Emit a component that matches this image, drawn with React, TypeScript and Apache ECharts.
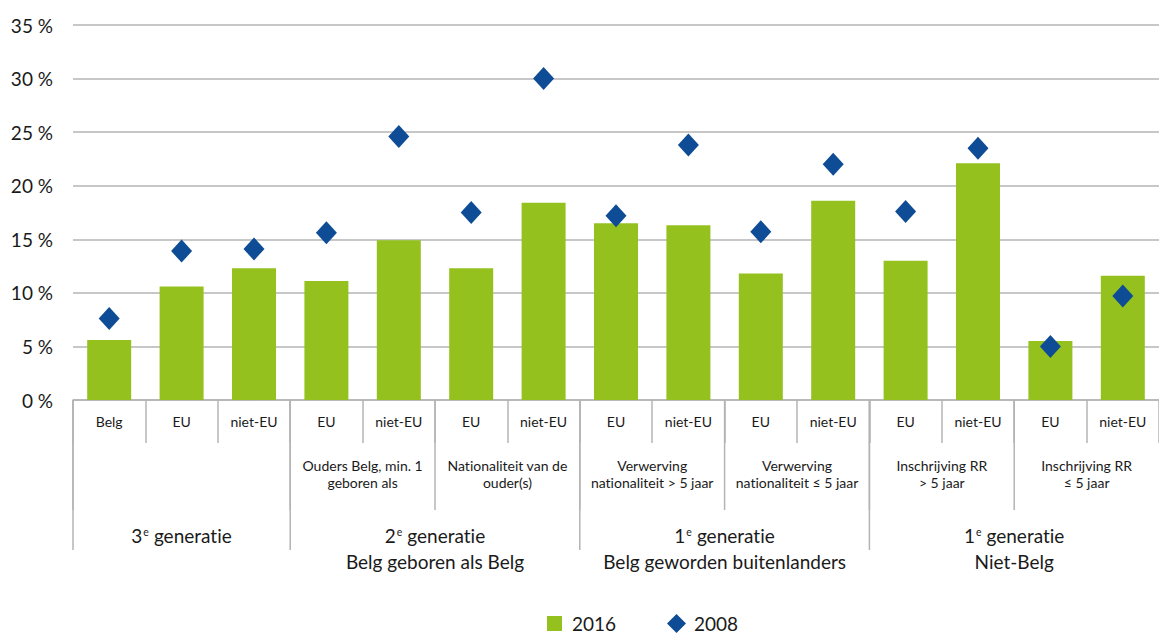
import React, { useEffect, useRef } from "react";
import * as echarts from "echarts";

const categories = ["Belg", "EU", "niet-EU", "EU", "niet-EU", "EU", "niet-EU", "EU", "niet-EU", "EU", "niet-EU", "EU", "niet-EU", "EU", "niet-EU"];
const values2016 = [5.6, 10.6, 12.3, 11.1, 14.9, 12.3, 18.4, 16.5, 16.3, 11.8, 18.6, 13.0, 22.1, 5.5, 11.6];
const values2008 = [7.6, 13.9, 14.1, 15.6, 24.6, 17.5, 30.0, 17.2, 23.8, 15.7, 22.0, 17.6, 23.5, 5.0, 9.7];

const level2Labels = [
  "",
  "Ouders Belg, min. 1\ngeboren als",
  "Nationaliteit van de\nouder(s)",
  "Verwerving\nnationaliteit > 5 jaar",
  "Verwerving\nnationaliteit ≤ 5 jaar",
  "Inschrijving RR\n> 5 jaar",
  "Inschrijving RR\n≤ 5 jaar",
];
const level2Spans = [[0, 2], [3, 4], [5, 6], [7, 8], [9, 10], [11, 12], [13, 14]];

const level3Ordinals = ["3", "2", "1", "1"];
const level3Titles = ["", "Belg geboren als Belg", "Belg geworden buitenlanders", "Niet-Belg"];
const level3Spans = [[0, 2], [3, 6], [7, 10], [11, 14]];

const FONT = "Lato, 'Noto Sans', sans-serif";
const TEXT = "#1a1a1a";
const GRID = "#b4b4b4";

export default function App() {
  const ref = useRef<HTMLDivElement>(null);

  useEffect(() => {
    if (!ref.current) return;
    const chart = echarts.init(ref.current, undefined, { renderer: "svg" });

    const groupData: any[] = [];
    level2Spans.forEach((s, i) => groupData.push([s[0], s[1], 0, 2, i]));
    level3Spans.forEach((s, i) => groupData.push([s[0], s[1], 0, 3, i]));

    const renderGroup = (params: any, api: any) => {
      const start = api.value(0);
      const end = api.value(1);
      const level = api.value(3);
      const idx = api.value(4);
      const pL = api.coord([start - 0.5, 0]);
      const pR = api.coord([end + 0.5, 0]);
      const cx = (pL[0] + pR[0]) / 2;
      const y0 = pL[1];
      const children: any[] = [];
      const depth = level === 2 ? 110 : 150;
      children.push({
        type: "line",
        shape: { x1: pL[0], y1: y0, x2: pL[0], y2: y0 + depth },
        style: { stroke: GRID, lineWidth: 1.5 },
      });
      if (level === 2) {
        const t = level2Labels[idx];
        if (t) {
          children.push({
            type: "text",
            x: cx,
            y: y0 + 57,
            style: {
              text: t,
              align: "center",
              verticalAlign: "top",
              fontSize: 14,
              lineHeight: 17,
              fontFamily: FONT,
              fill: TEXT,
            },
          });
        }
      } else {
        const title = level3Titles[idx];
        const txt = `{n|${level3Ordinals[idx]}}{s|e}{n| generatie}` + (title ? `\n{n|${title}}` : "");
        children.push({
          type: "text",
          x: cx,
          y: y0 + 122,
          style: {
            text: txt,
            align: "center",
            verticalAlign: "top",
            fontSize: 19,
            lineHeight: 26,
            fontFamily: FONT,
            fill: TEXT,
            rich: {
              n: { fontSize: 19, lineHeight: 26, fontFamily: FONT, fill: TEXT },
              s: { fontSize: 10.5, lineHeight: 10, fontFamily: FONT, fill: TEXT, verticalAlign: "top", padding: [4, 0, 0, 1] },
            },
          },
        });
      }
      return { type: "group", children };
    };

    chart.setOption({
      animation: false,
      textStyle: { fontFamily: FONT, color: TEXT },
      grid: { left: 73, right: 0, top: 25, bottom: 235, containLabel: false },
      legend: [
        {
          data: [{ name: "2016", icon: "rect" }],
          left: 547,
          top: 614,
          padding: 0,
          itemWidth: 15,
          itemHeight: 15,
          selectedMode: false,
          textStyle: { fontSize: 19, color: TEXT, fontFamily: FONT, padding: [0, 0, 0, 5] },
        },
        {
          data: [{ name: "2008", icon: "diamond" }],
          left: 667,
          top: 614,
          padding: 0,
          itemWidth: 19,
          itemHeight: 19,
          selectedMode: false,
          itemStyle: { opacity: 1 },
          textStyle: { fontSize: 19, color: TEXT, fontFamily: FONT, padding: [0, 0, 0, 3] },
        },
      ],
      xAxis: [
        {
          type: "category",
          data: categories,
          boundaryGap: true,
          axisLine: { show: true, lineStyle: { color: GRID, width: 1.5 } },
          axisTick: { show: true, length: 43, interval: 0, alignWithLabel: false, lineStyle: { color: GRID, width: 1.5 } },
          axisLabel: { interval: 0, margin: 14, fontSize: 14, color: TEXT, fontFamily: FONT },
        },
        { type: "value", min: -0.5, max: 14.5, show: false },
      ],
      yAxis: {
        type: "value",
        min: 0,
        max: 35,
        interval: 5,
        axisLine: { show: false },
        axisTick: { show: false },
        splitLine: { lineStyle: { color: GRID, width: 1.5 } },
        axisLabel: { formatter: "{value} %", fontSize: 19, color: TEXT, fontFamily: FONT, margin: 20 },
      },
      series: [
        {
          name: "2016",
          type: "bar",
          data: values2016,
          barWidth: 44,
          itemStyle: { color: "#95C11F" },
          xAxisIndex: 0,
        },
        {
          name: "2008",
          type: "scatter",
          data: values2008,
          symbol: "diamond",
          symbolSize: [21, 23],
          itemStyle: { color: "#0E4C96", opacity: 1 },
          xAxisIndex: 0,
          z: 5,
        },
        {
          type: "custom",
          xAxisIndex: 1,
          yAxisIndex: 0,
          clip: false,
          silent: true,
          encode: { x: [0, 1], y: 2 },
          data: groupData,
          renderItem: renderGroup,
          z: 4,
        },
      ],
    });

    return () => chart.dispose();
  }, []);

  return (
    <>
      <style>{"svg text{font-variant-ligatures:none;font-feature-settings:'liga' 0;}"}</style>
      <div ref={ref} style={{ position: "absolute", left: 0, top: 0, width: 1159, height: 635 }} />
    </>
  );
}
